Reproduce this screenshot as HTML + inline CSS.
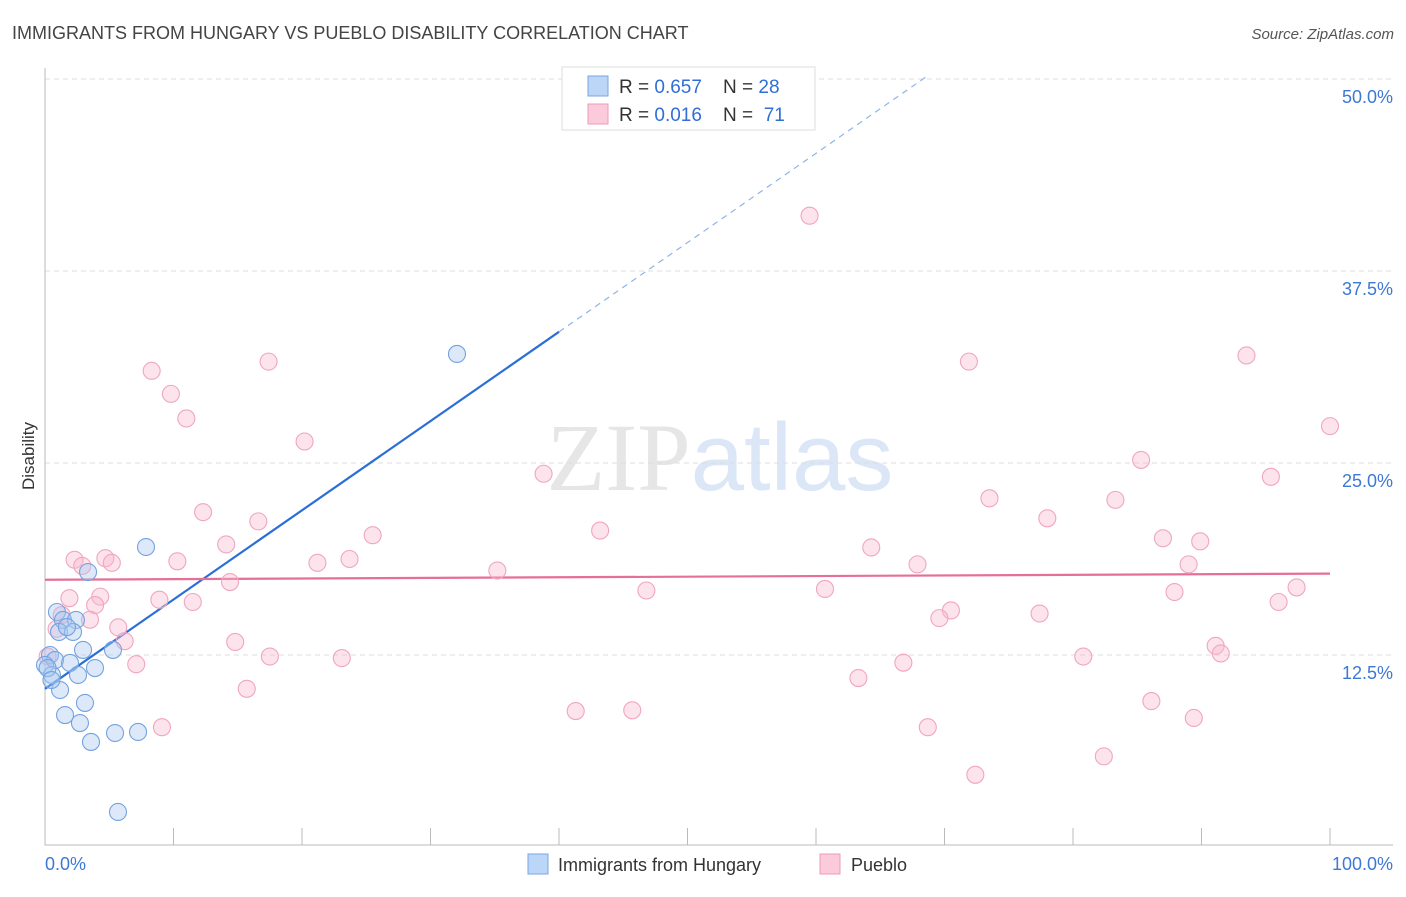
<!DOCTYPE html>
<html><head><meta charset="utf-8"><style>
body{margin:0;background:#fff;font-family:"Liberation Sans",sans-serif}
</style></head><body>
<svg id="c" width="1406" height="892" xmlns="http://www.w3.org/2000/svg" font-family="Liberation Sans, sans-serif">
<text x="12" y="39" font-size="18" fill="#444">IMMIGRANTS FROM HUNGARY VS PUEBLO DISABILITY CORRELATION CHART</text>
<text x="1394" y="39" font-size="15" fill="#555" font-style="italic" text-anchor="end">Source: ZipAtlas.com</text>
<text x="720" y="490" font-size="96" text-anchor="middle"><tspan fill="#e6e6e6" font-family="Liberation Serif, serif">ZIP</tspan><tspan fill="#dbe7f6">atlas</tspan></text>
<text transform="translate(34,456) rotate(-90)" font-size="17" fill="#333" text-anchor="middle">Disability</text>
<g id="grid"></g><g id="ticks"></g><g id="trend"></g><g id="pts"></g>
<g>
<rect x="562" y="67" width="253" height="63" fill="#fff" stroke="#ddd"/>
<rect x="588" y="76" width="20" height="20" fill="#bcd6f7" stroke="#7aa6e0"/>
<rect x="588" y="104" width="20" height="20" fill="#fbcadb" stroke="#ee9cb7"/>
<text x="619" y="93" font-size="19" fill="#333" xml:space="preserve" style="white-space:pre">R = <tspan fill="#2f6fd6">0.657</tspan>    N = <tspan fill="#2f6fd6">28</tspan></text>
<text x="619" y="121" font-size="19" fill="#333" xml:space="preserve" style="white-space:pre">R = <tspan fill="#2f6fd6">0.016</tspan>    N =  <tspan fill="#2f6fd6">71</tspan></text>
</g>
<g>
<rect x="528" y="854" width="20" height="20" fill="#bcd6f7" stroke="#7aa6e0"/>
<text x="558" y="871" font-size="18" fill="#333">Immigrants from Hungary</text>
<rect x="820" y="854" width="20" height="20" fill="#fbcadb" stroke="#ee9cb7"/>
<text x="851" y="871" font-size="18" fill="#333">Pueblo</text>
</g>
</svg>
<script>
const yTicks=[12.5,25,37.5,50];
const yTickLabels=["12.5%","25.0%","37.5%","50.0%"];
const xTicks=[0,10,20,30,40,50,60,70,80,90,100];
const blueX=[7.86,3.35,0.93,1.40,2.41,1.09,2.18,1.71,2.96,5.29,0.39,0.78,0,1.95,3.89,0.54,2.57,1.17,3.11,1.56,2.72,3.58,5.45,7.24,5.68,32.06,0.2,0.5];
const blueY=[19.53,17.9,15.3,14.78,14.78,14.0,14.0,14.32,12.83,12.83,12.5,12.17,11.85,11.98,11.65,11.2,11.2,10.22,9.38,8.59,8.07,6.84,7.42,7.49,2.28,32.1,11.65,10.87];
const pinkX=[59.5,8.3,17.4,71.9,93.5,9.8,11.0,100,20.2,38.8,85.3,95.4,12.3,73.5,83.3,16.6,78.0,43.2,25.5,14.1,87.0,89.9,64.3,2.3,4.7,2.9,5.2,10.3,21.2,23.7,67.9,89.0,35.2,14.4,60.7,46.8,87.9,1.9,4.3,8.9,11.5,3.9,96.0,97.4,70.5,77.4,69.6,1.3,3.5,5.7,0.9,6.2,14.8,91.1,91.5,17.5,23.1,80.8,7.1,66.8,63.3,15.7,41.3,45.7,86.1,89.4,9.1,68.7,82.4,72.4,0.2];
const pinkY=[41.1,31.0,31.6,31.6,32.0,29.5,27.9,27.4,26.4,24.3,25.2,24.1,21.8,22.7,22.6,21.2,21.4,20.6,20.3,19.7,20.1,19.9,19.5,18.7,18.8,18.3,18.5,18.6,18.5,18.75,18.4,18.4,18.0,17.25,16.8,16.7,16.6,16.2,16.3,16.1,15.95,15.75,15.95,16.9,15.4,15.2,14.9,15.1,14.8,14.3,14.2,13.4,13.35,13.1,12.6,12.4,12.3,12.4,11.9,12.0,11.0,10.3,8.85,8.9,9.5,8.4,7.8,7.8,5.9,4.7,12.4];
const blueFit=[10.3,0.581];
const pinkFit=[17.4,0.004];
const X=v=>45+v*12.85, Y=v=>847-v*15.36;
const NS="http://www.w3.org/2000/svg";
function mk(p,t,a){const e=document.createElementNS(NS,t);for(const k in a)e.setAttribute(k,a[k]);document.getElementById(p).appendChild(e);return e;}
yTicks.forEach((v,i)=>{
 const l=mk('grid','line',{x1:45,x2:1393,y1:Y(v),y2:Y(v),stroke:'#ddd','stroke-dasharray':'5,4'});
 
 
 const t=mk('grid','text',{x:1393,y:Y(v)+24,'font-size':18,fill:'#3d78d6','text-anchor':'end'});
 t.textContent=yTickLabels[i];
 
 
});
const ax=mk('ticks','path',{d:'M45,68V845H1393',stroke:'#bbb',fill:'none'});


xTicks.forEach(v=>{const l=mk('ticks','line',{x1:X(v),x2:X(v),y1:828,y2:845,stroke:'#bbb'});
 
 });
[[0,'start',45],[100,'end',1393]].forEach(([v,a,x])=>{const t=mk('ticks','text',{x:x,y:870,'font-size':18,fill:'#3d78d6','text-anchor':a});t.textContent=v.toFixed(1)+'%';
 
 });
pinkX.forEach((x,i)=>{const c=mk('pts','circle',{cx:X(x),cy:Y(pinkY[i]),r:8.5,fill:'rgba(248,185,207,0.4)',stroke:'#f0a6bf','stroke-width':1.1});
 
 });
blueX.forEach((x,i)=>{const c=mk('pts','circle',{cx:X(x),cy:Y(blueY[i]),r:8.5,fill:'rgba(170,200,240,0.4)',stroke:'#74a3e0','stroke-width':1.1});
 
 });
const bx1=40,bx2=(50-blueFit[0])/blueFit[1]+0.5;
let l=mk('trend','line',{x1:X(0),y1:Y(blueFit[0]),x2:X(bx1),y2:Y(blueFit[0]+blueFit[1]*bx1),stroke:'#2a6fd6','stroke-width':2.2});


l=mk('trend','line',{x1:X(bx1),y1:Y(blueFit[0]+blueFit[1]*bx1),x2:X(bx2),y2:Y(blueFit[0]+blueFit[1]*bx2),stroke:'#8fb3e6','stroke-width':1.2,'stroke-dasharray':'6,5'});


l=mk('trend','line',{x1:X(0),y1:Y(pinkFit[0]),x2:X(100),y2:Y(pinkFit[0]+pinkFit[1]*100),stroke:'#e66f98','stroke-width':2.2});


</script>
</body></html>
